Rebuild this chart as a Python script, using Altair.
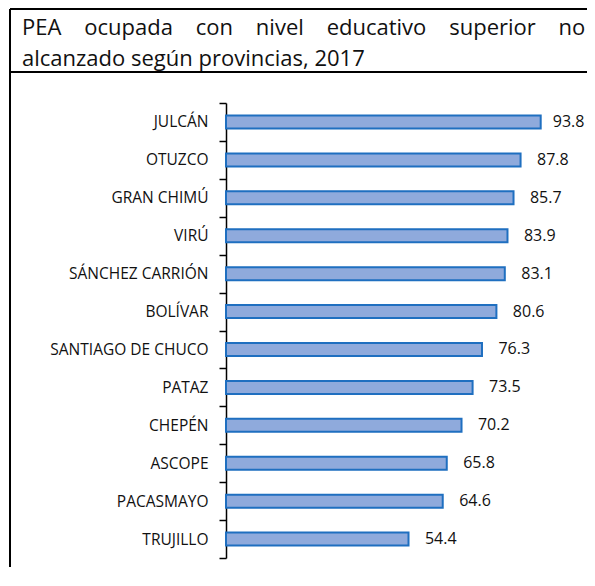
import altair as alt
import pandas as pd

provincias = ["JULCÁN", "OTUZCO", "GRAN CHIMÚ", "VIRÚ", "SÁNCHEZ CARRIÓN", "BOLÍVAR",
              "SANTIAGO DE CHUCO", "PATAZ", "CHEPÉN", "ASCOPE", "PACASMAYO", "TRUJILLO"]
valores = [93.8, 87.8, 85.7, 83.9, 83.1, 80.6, 76.3, 73.5, 70.2, 65.8, 64.6, 54.4]
titulo_palabras = ["PEA", "ocupada", "con", "nivel", "educativo", "superior", "no"]
titulo_linea2 = "alcanzado según provincias, 2017"

W, H = 577, 558
FONT = "Open Sans"

df = pd.DataFrame({"provincia": provincias, "valor": valores})
one = pd.DataFrame({"k": [0]})

x_scale = alt.Scale(domain=[0, 100], range=[216, 551.5])
y_scale = alt.Scale(domain=provincias, range=[94, 549], paddingInner=0, paddingOuter=0)

y_axis = alt.Axis(title=None, offset=-216, tickBand="extent", tickSize=7, tickWidth=1.5,
                  tickColor="black", domainColor="black", domainWidth=1.5, labelPadding=11,
                  labelFont=FONT, labelFontSize=15.5, labelColor="#111111", grid=False)

bars = alt.Chart(df).mark_bar(size=13, fill="#8FAADC", stroke="#1F6FC0", strokeWidth=2).encode(
    x=alt.X("valor:Q", scale=x_scale, axis=None),
    y=alt.Y("provincia:N", scale=y_scale, sort=None, axis=y_axis),
)

labels = alt.Chart(df).transform_calculate(
    pos="min(datum.valor + 4.9, 97.4)"
).mark_text(align="left", baseline="middle", font=FONT, fontSize=16, color="#111111").encode(
    x=alt.X("pos:Q", scale=x_scale, axis=None),
    y=alt.Y("provincia:N", scale=y_scale, sort=None, axis=y_axis),
    text=alt.Text("valor:Q", format=".1f"),
)

sep = "\u00a0" * 4
line1 = alt.Chart(one).mark_text(text=sep.join(titulo_palabras), align="left", baseline="alphabetic",
                                 font=FONT, fontSize=22, color="#111111").encode(
    x=alt.value(12), y=alt.value(26))
line2 = alt.Chart(one).mark_text(text=titulo_linea2, align="left", baseline="alphabetic",
                                 font=FONT, fontSize=22, color="#111111").encode(
    x=alt.value(12), y=alt.value(57))

left_border = alt.Chart(one).mark_rule(color="black", strokeWidth=2).encode(
    x=alt.value(0), y=alt.value(0), y2=alt.value(H))
top_border = alt.Chart(one).mark_rule(color="black", strokeWidth=2).encode(
    x=alt.value(0), x2=alt.value(W), y=alt.value(0))
sep_rule = alt.Chart(one).mark_rule(color="black", strokeWidth=2).encode(
    x=alt.value(0), x2=alt.value(W), y=alt.value(63))

chart = alt.layer(bars, labels, line1, line2, left_border, top_border, sep_rule).properties(
    width=W, height=H,
    autosize=alt.AutoSizeParams(type="none"),
    padding={"left": 2, "top": 1, "right": 0, "bottom": 0},
).configure_view(stroke=None).configure(background="white")

chart.save("out.html", embed_options={"renderer": "svg", "actions": False})
